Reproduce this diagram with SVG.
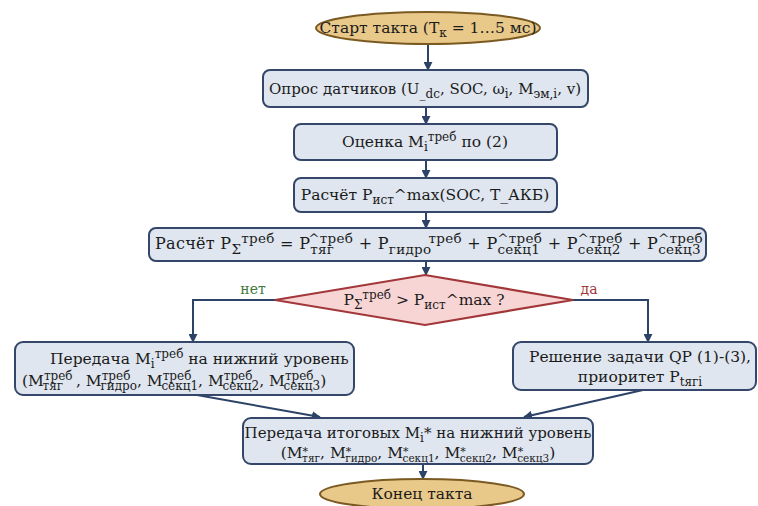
<svg xmlns="http://www.w3.org/2000/svg" width="758" height="506" viewBox="0 0 758 506">
<defs>
<marker id="ah" viewBox="0 0 10 10" refX="9" refY="5" markerWidth="9" markerHeight="9" markerUnits="userSpaceOnUse" orient="auto">
<path d="M0,0 L10,5 L0,10 z" fill="#2c4266"/>
</marker>
<style>
.bg{fill:#ffffff}
.box{fill:#dfe6f0;stroke:#34476a;stroke-width:2}
.term{fill:#e9c98a;stroke:#7a5a22;stroke-width:2}
.dec{fill:#f8d5d5;stroke:#a2373a;stroke-width:2.2}
.con{fill:none;stroke:#2c4266;stroke-width:2;marker-end:url(#ah)}
.t{font-family:"DejaVu Serif","Liberation Serif",serif;font-size:15.5px;fill:#1b1b1b}
.c{text-anchor:middle}
.sb{font-size:12px;baseline-shift:-4px}
.sp{font-size:12px;baseline-shift:6.5px}
.sb2{font-size:10.5px;baseline-shift:-4px}
.sp2{font-size:11px;baseline-shift:3px}
.big{font-size:16px;letter-spacing:0.3px}
.big .sb{font-size:13.5px;baseline-shift:-4.5px}
.big .sp{font-size:13.5px;baseline-shift:6px}
.no{font-family:"DejaVu Serif","Liberation Serif",serif;font-size:14px;fill:#3f7a3f}
.yes{font-family:"DejaVu Serif","Liberation Serif",serif;font-size:14px;fill:#a2373a}
</style>
</defs>
<rect class="bg" x="0" y="0" width="758" height="506"/>

<g id="connectors">
<path class="con" d="M428,44 L428,70"/>
<path class="con" d="M426,107 L426,124"/>
<path class="con" d="M426,160 L426,178"/>
<path class="con" d="M426,212 L426,228"/>
<path class="con" d="M426,261 L426,275"/>
<path class="con" d="M275,300 L193,300 L193,342"/>
<path class="con" d="M573,300 L648,300 L648,342"/>
<path class="con" d="M197,395 L320,417"/>
<path class="con" d="M643,390 L524,417"/>
<path class="con" d="M423,464 L423,479"/>
<text class="no" x="253" y="294" text-anchor="middle">нет</text>
<text class="yes" x="589" y="294" text-anchor="middle">да</text>
</g>

<g id="start">
<ellipse class="term" cx="428" cy="28" rx="112" ry="16"/>
<text class="t c" x="428" y="33">Старт такта (T<tspan class="sb">к</tspan> = 1…5 мс)</text>
</g>

<g id="sensors">
<rect class="box" x="263" y="70" width="325" height="37" rx="7"/>
<text class="t c" x="425" y="94" style="font-size:15px">Опрос датчиков (U<tspan class="sb">_dc</tspan>, SOC, ω<tspan class="sb">i</tspan>, M<tspan class="sb">эм,i</tspan>, v)</text>
</g>

<g id="estimate">
<rect class="box" x="294" y="124" width="263" height="36" rx="7"/>
<text class="t c" x="425" y="147">Оценка M<tspan class="sb">i</tspan><tspan class="sp">треб</tspan> по (2)</text>
</g>

<g id="pmax">
<rect class="box" x="294" y="178" width="263" height="34" rx="7"/>
<text class="t c" x="425" y="200">Расчёт P<tspan class="sb">ист</tspan>^max(SOC, T_АКБ)</text>
</g>

<g id="psum">
<rect class="box" x="149" y="228" width="557" height="33" rx="7"/>
<text class="t c big" x="429" y="249">Расчёт P<tspan class="sb">Σ</tspan><tspan class="sp">треб</tspan> = P<tspan class="sb">тяг</tspan><tspan class="sp" dx="-26">^треб</tspan> + P<tspan class="sb">гидро</tspan><tspan class="sp" dx="-3">треб</tspan> + P<tspan class="sb">секц1</tspan><tspan class="sp" dx="-43">^треб</tspan> + P<tspan class="sb">секц2</tspan><tspan class="sp" dx="-43">^треб</tspan> + P<tspan class="sb">секц3</tspan><tspan class="sp" dx="-43">^треб</tspan></text>
</g>

<g id="decision">
<polygon class="dec" points="425,275 573,300 425,325 275,300"/>
<text class="t c" x="424" y="305">P<tspan class="sb">Σ</tspan><tspan class="sp">треб</tspan> &gt; P<tspan class="sb">ист</tspan>^max ?</text>
</g>

<g id="pass">
<rect class="box" x="15" y="342" width="339" height="53" rx="8"/>
<text class="t" x="50" y="364">Передача M<tspan class="sb">i</tspan><tspan class="sp">треб</tspan> на нижний уровень</text>
<text class="t" x="22" y="386">(M<tspan class="sp">треб</tspan><tspan class="sb" dx="-30">тяг</tspan><tspan dx="8"> , M</tspan><tspan class="sp">треб</tspan><tspan class="sb" dx="-30">гидро</tspan>, M<tspan class="sp">треб</tspan><tspan class="sb" dx="-30">секц1</tspan>, M<tspan class="sp">треб</tspan><tspan class="sb" dx="-30">секц2</tspan>, M<tspan class="sp">треб</tspan><tspan class="sb" dx="-30">секц3</tspan>)</text>
</g>

<g id="qp">
<rect class="box" x="513" y="342" width="243" height="48" rx="8"/>
<text class="t c" x="640" y="362">Решение задачи QP (1)-(3),</text>
<text class="t c" x="640" y="382">приоритет P<tspan class="sb">tягi</tspan></text>
</g>

<g id="final">
<rect class="box" x="243" y="418" width="350" height="46" rx="8"/>
<text class="t c" x="418" y="438" style="font-size:15px">Передача итоговых M<tspan class="sb">i</tspan>* на нижний уровень</text>
<text class="t c" x="418" y="458">(M<tspan class="sp2">*</tspan><tspan class="sb2" dx="-6">тяг</tspan>, M<tspan class="sp2">*</tspan><tspan class="sb2" dx="-6">гидро</tspan>, M<tspan class="sp2">*</tspan><tspan class="sb2" dx="-6">секц1</tspan>, M<tspan class="sp2">*</tspan><tspan class="sb2" dx="-6">секц2</tspan>, M<tspan class="sp2">*</tspan><tspan class="sb2" dx="-6">секц3</tspan>)</text>
</g>

<g id="end">
<ellipse class="term" cx="422" cy="494" rx="102" ry="15"/>
<text class="t c" x="422" y="499">Конец такта</text>
</g>
</svg>
